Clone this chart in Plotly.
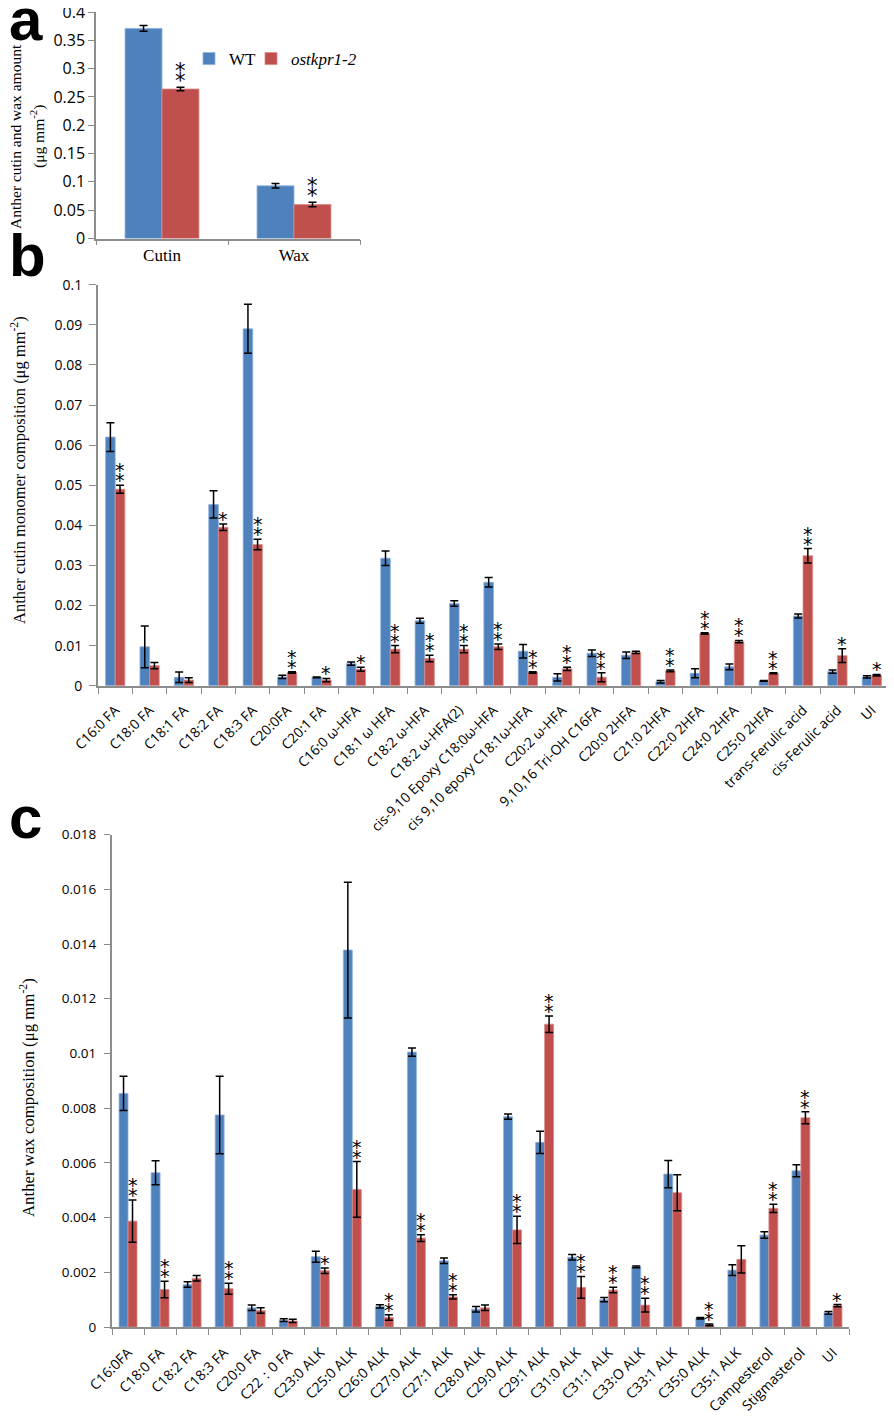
import plotly.graph_objects as go

# ---------------- Panel a data ----------------
cat_a = ["Cutin", "Wax"]
wt_a = [0.371, 0.093]
wt_a_err = [0.005, 0.004]
mut_a = [0.264, 0.060]
mut_a_err = [0.003, 0.004]
sig_a = [2, 2]
ytick_a = [0, 0.05, 0.1, 0.15, 0.2, 0.25, 0.3, 0.35, 0.4]
ytick_a_txt = ["0", "0.05", "0.1", "0.15", "0.2", "0.25", "0.3", "0.35", "0.4"]

# ---------------- Panel b data ----------------
cat_b = ["C16:0 FA", "C18:0 FA", "C18:1 FA", "C18:2 FA", "C18:3 FA", "C20:0FA",
         "C20:1 FA", "C16:0 ω-HFA", "C18:1 ω HFA", "C18:2 ω-HFA", "C18:2 ω-HFA(2)",
         "cis-9,10 Epoxy C18:0ω-HFA", "cis 9,10 epoxy C18:1ω-HFA", "C20:2 ω-HFA",
         "9,10,16 Tri-OH C16FA", "C20:0 2HFA", "C21:0 2HFA", "C22:0 2HFA",
         "C24:0 2HFA", "C25:0 2HFA", "trans-Ferulic acid", "cis-Ferulic acid", "UI"]
wt_b = [0.0620, 0.0097, 0.0021, 0.0452, 0.0890, 0.0022, 0.0021, 0.0055, 0.0318,
        0.0162, 0.0205, 0.0258, 0.0086, 0.0021, 0.0081, 0.0076, 0.0010, 0.0031,
        0.0047, 0.0012, 0.0174, 0.0035, 0.0022]
wt_b_err = [0.0036, 0.0052, 0.0013, 0.0034, 0.0061, 0.0004, 0.0001, 0.0004, 0.0018,
            0.0006, 0.0007, 0.0012, 0.0017, 0.0009, 0.0008, 0.0008, 0.0003, 0.0011,
            0.0007, 0.0001, 0.0005, 0.0004, 0.0003]
mut_b = [0.0490, 0.0050, 0.0014, 0.0395, 0.0352, 0.0033, 0.0014, 0.0041, 0.0091,
         0.0068, 0.0091, 0.0097, 0.0033, 0.0042, 0.0021, 0.0083, 0.0037, 0.0130,
         0.0110, 0.0031, 0.0324, 0.0075, 0.0026]
mut_b_err = [0.0010, 0.0008, 0.0006, 0.0008, 0.0013, 0.0002, 0.0004, 0.0005, 0.0009,
             0.0008, 0.0009, 0.0007, 0.0002, 0.0004, 0.0011, 0.0003, 0.0002, 0.0002,
             0.0003, 0.0001, 0.0018, 0.0017, 0.0002]
sig_b = [2, 0, 0, 1, 2, 2, 1, 1, 2, 2, 2, 2, 2, 2, 2, 0, 2, 2, 2, 2, 2, 1, 1]
ytick_b = [0, 0.01, 0.02, 0.03, 0.04, 0.05, 0.06, 0.07, 0.08, 0.09, 0.1]
ytick_b_txt = ["0", "0.01", "0.02", "0.03", "0.04", "0.05", "0.06", "0.07", "0.08", "0.09", "0.1"]

# ---------------- Panel c data ----------------
cat_c = ["C16:0FA", "C18:0 FA", "C18:2 FA", "C18:3 FA", "C20:0 FA", "C22：0 FA",
         "C23:0 ALK", "C25:0 ALK", "C26:0 ALK", "C27:0 ALK", "C27:1 ALK", "C28:0 ALK",
         "C29:0 ALK", "C29:1 ALK", "C31:0 ALK", "C31:1 ALK", "C33:O ALK", "C33:1 ALK",
         "C35:0 ALK", "C35:1 ALK", "Campesterol", "Stigmasterol", "UI"]
wt_c = [0.00854, 0.00564, 0.00155, 0.00775, 0.00070, 0.00025, 0.00257, 0.01378,
        0.00075, 0.01005, 0.00242, 0.00065, 0.00769, 0.00675, 0.00255, 0.00100,
        0.00220, 0.00559, 0.00032, 0.00208, 0.00336, 0.00571, 0.00052]
wt_c_err = [0.00063, 0.00044, 0.00010, 0.00142, 0.00010, 0.00005, 0.00020, 0.00248,
            0.00006, 0.00015, 0.00010, 0.00010, 0.00010, 0.00041, 0.00010, 0.00008,
            0.00003, 0.00050, 0.00003, 0.00020, 0.00012, 0.00022, 0.00005]
mut_c = [0.00387, 0.00137, 0.00178, 0.00140, 0.00060, 0.00022, 0.00206, 0.00503,
         0.00035, 0.00325, 0.00110, 0.00070, 0.00355, 0.01107, 0.00145, 0.00135,
         0.00080, 0.00491, 0.00008, 0.00247, 0.00434, 0.00765, 0.00078]
mut_c_err = [0.00077, 0.00030, 0.00010, 0.00020, 0.00010, 0.00006, 0.00010, 0.00102,
             0.00010, 0.00012, 0.00008, 0.00010, 0.00050, 0.00030, 0.00040, 0.00010,
             0.00025, 0.00066, 0.00003, 0.00050, 0.00015, 0.00022, 0.00004]
sig_c = [2, 2, 0, 2, 0, 0, 1, 2, 2, 2, 2, 0, 2, 2, 2, 2, 2, 0, 2, 0, 2, 2, 1]
ytick_c = [0, 0.002, 0.004, 0.006, 0.008, 0.01, 0.012, 0.014, 0.016, 0.018]
ytick_c_txt = ["0", "0.002", "0.004", "0.006", "0.008", "0.01", "0.012", "0.014", "0.016", "0.018"]

series_names = ["WT", "<i>ostkpr1-2</i>"]
BLUE = "#4F81BD"
RED = "#C0504D"
BLUE_EDGE = "#8EB1DE"
RED_EDGE = "#DA8A88"

W, H = 894, 1418
OFF = 8  # page body margin offset
SERIF = "Liberation Serif"
SANS = "Open Sans"


def px_x(v):
    return (v - OFF) / W


def px_y(v):
    return 1 - (v - OFF) / H


fig = go.Figure()

panels = [
    ("x", "y", cat_a, wt_a, wt_a_err, mut_a, mut_a_err, True),
    ("x2", "y2", cat_b, wt_b, wt_b_err, mut_b, mut_b_err, False),
    ("x3", "y3", cat_c, wt_c, wt_c_err, mut_c, mut_c_err, False),
]

for xa, ya, cats, wv, we, mv, me, show in panels:
    fig.add_trace(go.Bar(
        x=cats, y=wv, name=series_names[0], xaxis=xa, yaxis=ya,
        marker=dict(color=BLUE, line=dict(color=BLUE_EDGE, width=0.8)),
        error_y=dict(type="data", array=we, color="black", thickness=1.5, width=4),
        showlegend=show, legend="legend"))
    fig.add_trace(go.Bar(
        x=cats, y=mv, name=series_names[1], xaxis=xa, yaxis=ya,
        marker=dict(color=RED, line=dict(color=RED_EDGE, width=0.8)),
        error_y=dict(type="data", array=me, color="black", thickness=1.5, width=4),
        showlegend=show, legend="legend2"))

AX_COL = "#8C8C8C"

dom = {
    "a": dict(x=[px_x(96), px_x(360)], y=[px_y(238.5), px_y(12)]),
    "b": dict(x=[px_x(98), px_x(889)], y=[px_y(685.7), px_y(284.7)]),
    "c": dict(x=[px_x(112), px_x(849)], y=[px_y(1327), px_y(834.6)]),
}

common = dict(showgrid=False, zeroline=False, automargin=False, showline=True,
              tickcolor=AX_COL, linecolor=AX_COL, ticks="outside", ticklabeloverflow="allow")

leg_common = dict(orientation="h", xanchor="left", yanchor="middle", bgcolor="rgba(0,0,0,0)",
                  font=dict(family=SERIF, size=17, color="black"), itemwidth=30)

fig.update_layout(
    template="none",
    width=W, height=H,
    margin=dict(l=0, r=0, t=0, b=0, autoexpand=False),
    paper_bgcolor="white", plot_bgcolor="white",
    barmode="group", bargap=0.44, bargroupgap=0,
    showlegend=True,
    legend=dict(x=px_x(189), y=px_y(59), **leg_common),
    legend2=dict(x=px_x(251), y=px_y(59), **leg_common),
    xaxis=dict(domain=dom["a"]["x"], anchor="y", type="category", linewidth=1.5,
               tickson="boundaries", ticklen=5,
               tickfont=dict(family=SERIF, size=17, color="black"), **common),
    yaxis=dict(domain=dom["a"]["y"], anchor="x", range=[0, 0.4], tickvals=ytick_a,
               ticktext=ytick_a_txt, linewidth=1.5, ticklen=6,
               tickfont=dict(family=SANS, size=16, color="black"), **common),
    xaxis2=dict(domain=dom["b"]["x"], anchor="y2", type="category", linewidth=2,
                tickson="boundaries", ticklen=6, tickangle=-45, ticklabelstandoff=9,
                tickfont=dict(family=SANS, size=13.8, color="black"), **common),
    yaxis2=dict(domain=dom["b"]["y"], anchor="x2", range=[0, 0.1], tickvals=ytick_b,
                ticktext=ytick_b_txt, linewidth=2, ticklen=7, ticklabelstandoff=4,
                tickfont=dict(family=SANS, size=14, color="black"), **common),
    xaxis3=dict(domain=dom["c"]["x"], anchor="y3", type="category", linewidth=2,
                tickson="boundaries", ticklen=6, tickangle=-45, ticklabelstandoff=10,
                tickfont=dict(family=SANS, size=14, color="black"), **common),
    yaxis3=dict(domain=dom["c"]["y"], anchor="x3", range=[0, 0.018], tickvals=ytick_c,
                ticktext=ytick_c_txt, linewidth=2, ticklen=6, ticklabelstandoff=5,
                tickfont=dict(family=SANS, size=13.5, color="black"), **common),
)

annotations = []

# significance stars
for xa, ya, cats, mv, me, sig in [("x", "y", cat_a, mut_a, mut_a_err, sig_a),
                                   ("x2", "y2", cat_b, mut_b, mut_b_err, sig_b),
                                   ("x3", "y3", cat_c, mut_c, mut_c_err, sig_c)]:
    size = 21 if xa == "x" else 19
    step = 10
    for i, (v, e, s) in enumerate(zip(mv, me, sig)):
        for k in range(s):
            annotations.append(dict(
                x=i + 0.14, y=v + e, xref=xa, yref=ya, text="*", showarrow=False,
                xanchor="center", yanchor="bottom", yshift=-8 + k * step,
                font=dict(family="DejaVu Sans", size=size, color="black")))

# y-axis titles
annotations += [
    dict(x=px_x(16), y=px_y(137), xref="paper", yref="paper", textangle=-90,
         text="Anther cutin and wax amount", showarrow=False, xanchor="center", yanchor="middle",
         font=dict(family=SERIF, size=15.5, color="black")),
    dict(x=px_x(38), y=px_y(137), xref="paper", yref="paper", textangle=-90,
         text="(μg mm<sup>-2</sup>)", showarrow=False, xanchor="center", yanchor="middle",
         font=dict(family=SERIF, size=15.5, color="black")),
    dict(x=px_x(19), y=px_y(470), xref="paper", yref="paper", textangle=-90,
         text="Anther cutin monomer composition (μg mm<sup>-2</sup>)", showarrow=False,
         xanchor="center", yanchor="middle", font=dict(family=SERIF, size=16.5, color="black")),
    dict(x=px_x(27), y=px_y(1098), xref="paper", yref="paper", textangle=-90,
         text="Anther wax composition (μg mm<sup>-2</sup>)", showarrow=False,
         xanchor="center", yanchor="middle", font=dict(family=SERIF, size=16.8, color="black")),
]

# panel letters
for letter, yy in [("a", 20), ("b", 256), ("c", 817)]:
    annotations.append(dict(x=px_x(7), y=px_y(yy), xref="paper", yref="paper", text="<b>%s</b>" % letter,
                            showarrow=False, xanchor="left", yanchor="middle",
                            font=dict(family="Liberation Sans", size=60, color="black")))

fig.update_layout(annotations=annotations)

fig.write_html("out.html")
